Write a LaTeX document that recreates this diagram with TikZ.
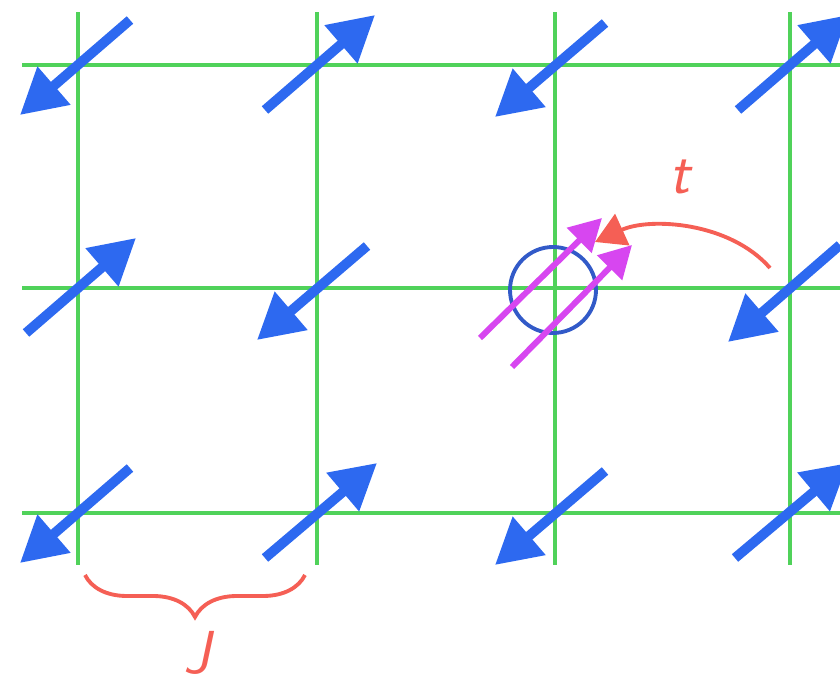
\documentclass[tikz,border=0pt]{standalone}
\usepackage{tikz}
\usetikzlibrary{arrows.meta,calc,decorations.pathreplacing}
\definecolor{lgreen}{RGB}{80,210,90}
\definecolor{sblue}{RGB}{45,105,240}
\definecolor{hblue}{RGB}{50,90,200}
\definecolor{hmag}{RGB}{215,70,240}
\definecolor{hred}{RGB}{245,95,85}

\begin{document}
\begin{tikzpicture}[
    bond/.style={lgreen, line width=1.1pt},
    spin/.style={sblue, line width=2.8pt, -{Triangle[length=0.45cm, width=0.48cm]}},
    hole_spin/.style={hmag, line width=1.7pt, -{Triangle[length=0.32cm, width=0.34cm]}},
    hop_arr/.style={hred, line width=1.1pt, -{Triangle[length=0.3cm, width=0.34cm]}},
    lbl/.style={text=hred, font=\LARGE\sffamily\itshape}
]
\useasboundingbox (0,0) rectangle (8.4,6.87);

% Lattice bonds
\foreach \x in {0.78,3.17,5.55,7.90} \draw[bond] (\x,1.22) -- (\x,6.75);
\foreach \y in {1.74,3.99,6.22} \draw[bond] (0.22,\y) -- (8.4,\y);

% Sites
\coordinate (s11) at (0.78,6.22);
\coordinate (s12) at (3.17,6.22);
\coordinate (s13) at (5.55,6.22);
\coordinate (s14) at (7.90,6.22);
\coordinate (s21) at (0.78,3.99);
\coordinate (s22) at (3.17,3.99);
\coordinate (s23) at (5.55,3.99);
\coordinate (s24) at (7.90,3.99);
\coordinate (s31) at (0.78,1.74);
\coordinate (s32) at (3.17,1.74);
\coordinate (s33) at (5.55,1.74);
\coordinate (s34) at (7.90,1.74);

% Spins, top row
\draw[spin] ($(s11)+(0.52,0.45)$) -- ($(s11)-(0.58,0.5)$);
\draw[spin] ($(s12)-(0.52,0.45)$) -- ($(s12)+(0.58,0.5)$);
\draw[spin] ($(s13)+(0.5,0.42)$) -- ($(s13)-(0.6,0.52)$);
\draw[spin] ($(s14)-(0.52,0.45)$) -- ($(s14)+(0.58,0.5)$);

% Spins, middle row
\draw[spin] ($(s21)-(0.52,0.45)$) -- ($(s21)+(0.58,0.5)$);
\draw[spin] ($(s22)+(0.5,0.42)$) -- ($(s22)-(0.6,0.52)$);
\draw[spin] ($(s24)+(0.5,0.43)$) -- ($(s24)-(0.62,0.54)$);

% Spins, bottom row
\draw[spin] ($(s31)+(0.52,0.45)$) -- ($(s31)-(0.58,0.5)$);
\draw[spin] ($(s32)-(0.52,0.45)$) -- ($(s32)+(0.6,0.5)$);
\draw[spin] ($(s33)+(0.5,0.42)$) -- ($(s33)-(0.6,0.52)$);
\draw[spin] ($(s34)-(0.55,0.45)$) -- ($(s34)+(0.58,0.5)$);

% Hole with double occupancy
\node[draw=hblue, line width=1.1pt, circle, minimum size=0.86cm, inner sep=0pt] (hole) at ($(s23)+(-0.02,-0.02)$) {};
\draw[hole_spin] ($(s23)+(-0.75,-0.5)$) -- ($(s23)+(0.47,0.7)$);
\draw[hole_spin] ($(s23)+(-0.43,-0.79)$) -- ($(s23)+(0.77,0.43)$);

% Hopping t
\coordinate (hop_from) at (7.70,4.19);
\coordinate (hop_to) at (5.95,4.45);
\draw[hop_arr] (hop_from) .. controls (7.3,4.65) and (6.5,4.7) .. (hop_to);
\node[lbl] (t_lbl) at (6.8,5.1) {t};

% Exchange J
\coordinate (j_left) at (0.85,1.12);
\coordinate (j_right) at (3.05,1.12);
\draw[hred, line width=1.1pt, decorate, decoration={brace, mirror, amplitude=0.42cm}] (j_left) -- (j_right);
\node[lbl] (j_lbl) at (1.97,0.34) {J};

\end{tikzpicture}
\end{document}
